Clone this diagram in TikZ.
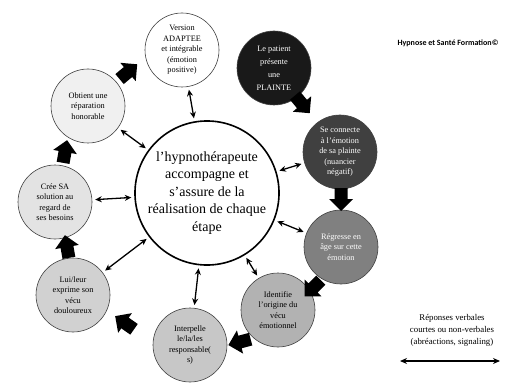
\documentclass[tikz,border=0pt]{standalone}
\usepackage{fontspec}
\setmainfont{Liberation Serif}
\newfontfamily\hdrfont{Carlito}
\usetikzlibrary{arrows.meta}
\newcommand\blkarrow[2]{\fill[black, shift={(#1)}, rotate=#2] (-11pt,-6.5pt) -- (0pt,-6.5pt) -- (0pt,-12pt) -- (12pt,0pt) -- (0pt,12pt) -- (0pt,6.5pt) -- (-11pt,6.5pt) -- cycle;}
\begin{document}
\begin{tikzpicture}[x=1pt,y=-1pt,
  stage/.style={circle, draw=black!75, line width=0.6pt, minimum size=74pt, inner sep=0pt, align=center, font=\fontsize{8.3}{10.5}\selectfont},
  hub/.style={circle, draw=black, line width=1.6pt, minimum size=140pt, inner sep=0pt, align=center, font=\fontsize{14}{17.5}\selectfont},
  link/.style={{Stealth[length=6.5pt,width=6pt]}-{Stealth[length=6.5pt,width=6pt]}, line width=1.3pt, shorten >=3pt, shorten <=3pt},
  legend/.style={align=center, font=\fontsize{8.8}{12}\selectfont}]
\useasboundingbox (0,0) rectangle (506,385);
\node[hub] (c) at (207,193) {l’hypnothérapeute\\accompagne et\\s’assure de la\\réalisation de chaque\\étape};
\node[stage, fill=white] (v) at (182,50) {Version\\ADAPTEE\\et intégrable\\(émotion\\positive)};
\node[stage, fill=black!90, text=white, font=\fontsize{8.3}{13}\selectfont] (p) at (274,68) {Le patient\\présente\\une\\PLAINTE};
\node[stage, fill=black!75, text=white] (s) at (340,152) {Se connecte\\à l’émotion\\de sa plainte\\(nuancier\\négatif)};
\node[stage, fill=black!50, text=white] (r) at (341,247) {Régresse en\\âge sur cette\\émotion};
\node[stage, fill=black!30] (i) at (278,310) {Identifie\\l’origine du\\vécu\\émotionnel};
\node[stage, fill=black!22] (t) at (190,345) {Interpelle\\le/la/les\\responsable(\\s)};
\node[stage, fill=black!18] (l) at (73,295) {Lui/leur\\exprime son\\vécu\\douloureux};
\node[stage, fill=black!11] (cr) at (55,202) {Crée SA\\solution au\\regard de\\ses besoins};
\node[stage, fill=black!6] (o) at (88,106) {Obtient une\\réparation\\honorable};
\foreach \n in {v,s,r,i,t,l,cr,o} \draw[link] (c) -- (\n);
\blkarrow{128,72}{40}
\blkarrow{302,104}{-50}
\blkarrow{341,199}{-90}
\blkarrow{313,288}{-135}
\blkarrow{240,342}{195}
\blkarrow{125,323}{145}
\blkarrow{67,247}{100}
\blkarrow{65,152}{80}
\node[font=\hdrfont\bfseries\fontsize{8}{10}\selectfont] (h) at (448,43) {Hypnose et Santé Formation©};
\node[legend] (lg) at (452,330) {Réponses verbales\\courtes ou non-verbales\\(abréactions, signaling)};
\coordinate (la) at (400,361);
\coordinate (lb) at (500,361);
\draw[{Stealth[length=7pt,width=6pt]}-{Stealth[length=7pt,width=6pt]}, line width=1.8pt] (la) -- (lb);
\end{tikzpicture}
\end{document}
